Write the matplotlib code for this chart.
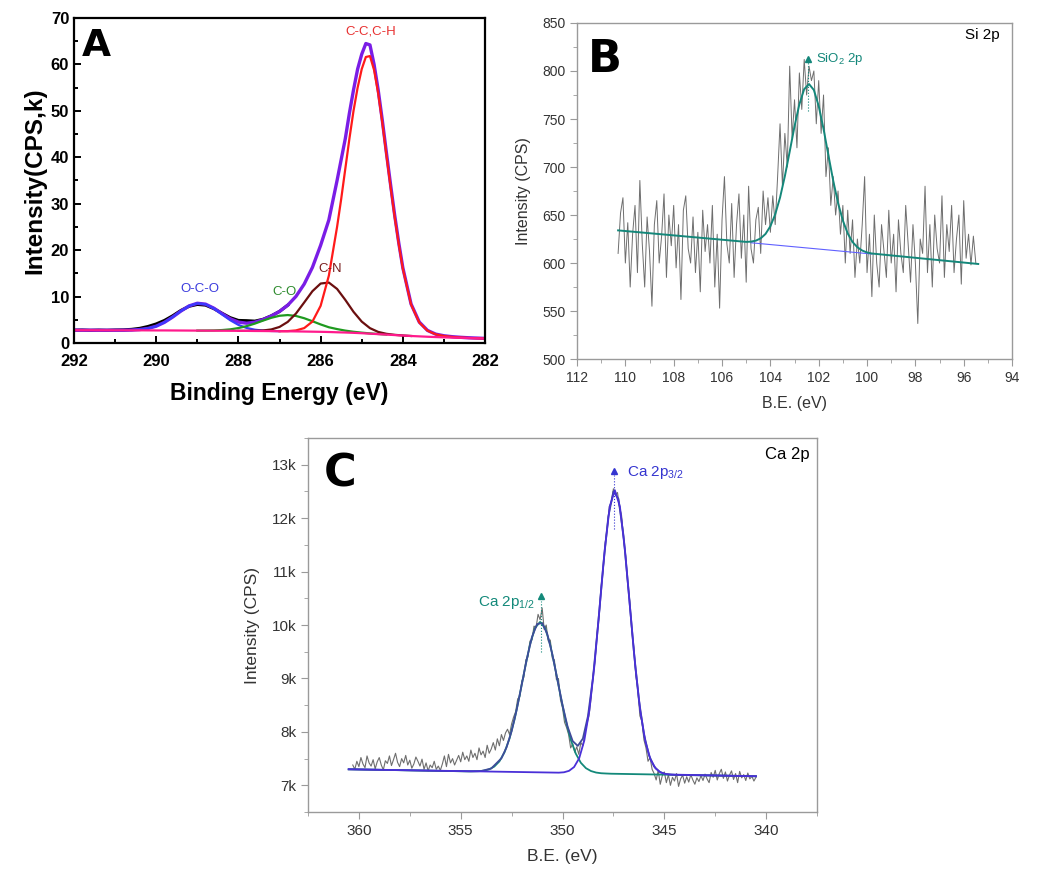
import numpy as np
import matplotlib
matplotlib.use("Agg")
import matplotlib.pyplot as plt
from matplotlib.ticker import MultipleLocator, FuncFormatter

plt.rcParams['font.family'] = ['Liberation Sans', 'DejaVu Sans']
plt.rcParams['mathtext.fontset'] = 'custom'
plt.rcParams['mathtext.rm'] = 'Liberation Sans'
plt.rcParams['mathtext.it'] = 'Liberation Sans:italic'
plt.rcParams['mathtext.bf'] = 'Liberation Sans:bold'


def grid(start, stop, step):
    # energy axis, descending, inclusive of stop
    return np.round(np.arange(start, stop - step / 2, -step), 2)


# ---------------- panel A : C 1s ----------------
a_x = grid(292.0, 282.0, 0.2)
a_base = [2.75, 2.75, 2.75, 2.74, 2.74, 2.73, 2.73, 2.72, 2.72, 2.71, 2.70,
          2.70, 2.69, 2.68, 2.67, 2.66, 2.65, 2.64, 2.63, 2.62, 2.61,
          2.60, 2.58, 2.57, 2.55, 2.53, 2.51, 2.49, 2.46, 2.43, 2.40,
          2.36, 2.30, 2.25, 2.18, 2.10, 2.00, 1.90, 1.80, 1.70, 1.60,
          1.50, 1.42, 1.34, 1.27, 1.21, 1.15, 1.10, 1.05, 1.00, 0.96]
a_raw = [2.76, 2.79, 2.72, 2.77, 2.73, 2.79, 2.82, 2.93, 3.15, 3.55, 4.10,
         4.85, 5.85, 7.00, 7.90, 8.30, 8.15, 7.40, 6.40, 5.45, 4.85,
         4.80, 4.70, 5.10, 5.85, 6.79, 8.14]
a_env_x = np.concatenate([grid(292.0, 285.6, 0.2), grid(285.5, 284.1, 0.1),
                          grid(284.0, 282.0, 0.2)])
a_env = [2.75, 2.75, 2.75, 2.74, 2.74, 2.74, 2.75, 2.78, 2.89, 3.13, 3.61,
         4.44, 5.58, 6.87, 7.98, 8.55, 8.36, 7.50, 6.31, 5.21, 4.49,
         4.25, 4.47, 5.04, 5.81, 6.79, 8.14, 10.03, 12.68, 16.27, 21.04,
         26.5, 35.0,
         39.5, 44.0, 49.5, 54.5, 59.0, 62.2, 64.5, 64.2, 60.0, 54.5, 48.0,
         41.0, 34.2, 27.6, 21.6,
         16.2, 8.4, 4.5, 2.7, 1.9, 1.55, 1.35, 1.22, 1.12, 1.05, 0.98]
a_oco_x = grid(291.0, 287.0, 0.2)
a_oco = [2.74, 2.75, 2.78, 2.89, 3.13, 3.61, 4.44, 5.58, 6.87, 7.98, 8.54,
         8.33, 7.44, 6.16, 4.90, 3.89, 3.23, 2.85, 2.67, 2.58, 2.54]
a_co_x = grid(289.0, 284.4, 0.2)
a_co = [2.67, 2.68, 2.70, 2.78, 2.93, 3.21, 3.62, 4.17, 4.82, 5.42, 5.86,
        6.01, 5.82, 5.33, 4.68, 3.99, 3.38, 2.99, 2.66, 2.41, 2.22, 2.06,
        1.93, 1.81]
a_cn_x = grid(288.0, 283.8, 0.2)
a_cn = [2.61, 2.61, 2.61, 2.69, 2.91, 3.45, 4.54, 6.34, 8.72, 11.15, 12.80,
        13.01, 11.64, 9.28, 6.71, 4.60, 3.19, 2.38, 1.97, 1.75, 1.61, 1.50]
a_cc_x = np.concatenate([grid(287.0, 285.6, 0.2), grid(285.5, 284.1, 0.1),
                         grid(284.0, 282.0, 0.2)])
a_cc = [2.53, 2.55, 2.70, 3.2, 4.6, 8.0, 14.5, 25.0,
        31.0, 37.5, 44.0, 50.0, 55.0, 59.0, 61.6, 61.8, 58.8, 53.8, 47.5,
        40.5, 33.7, 27.2, 21.3,
        16.0, 8.3, 4.4, 2.65, 1.85, 1.50, 1.30, 1.18, 1.08, 1.02, 0.96]

# ---------------- panel B : Si 2p ----------------
b_raw = [610, 652, 668, 600, 642, 575, 630, 660, 590, 686, 620, 575, 648, 612,
         555, 640, 665, 600, 628, 672, 585, 650, 618, 660,
         595, 640, 562, 655, 670, 615, 600, 648, 590, 632, 570, 655, 612, 640,
         600, 660, 575, 630, 553, 645,
         690, 620, 600, 662, 585, 640, 672, 605, 650, 580, 680, 615,
         600, 645, 658, 610, 675, 640, 668, 632, 670, 640, 690, 745, 680, 735,
         700, 805, 730, 770, 720, 798, 760, 812, 775, 805, 790, 800, 745, 790,
         735, 775, 690, 720, 660, 690, 650, 675, 630, 660, 600, 655, 610, 645,
         585, 625, 600, 640, 690,
         590, 630, 565, 650, 600, 575, 640, 612, 585, 655, 600, 630, 570, 645,
         610, 590, 660, 620, 580, 640, 600, 537, 625, 610, 680, 590, 640, 575,
         650, 615, 600, 670, 585, 640, 612, 660, 590, 625, 650, 578, 665, 605,
         630, 598, 628, 600]
b_fit_x = [110.3, 105.0, 104.8, 104.6, 104.4, 104.2, 104.0, 103.8, 103.6, 103.4,
           103.2, 103.0, 102.8, 102.6, 102.4, 102.2, 102.0, 101.8, 101.6, 101.4,
           101.2, 101.0, 100.8, 100.6, 100.4, 100.2, 100.0, 99.8, 95.4]
b_fit = [634.0, 622.0, 622.3, 623.3, 625.7, 630.3, 638.3, 650.7, 668.1, 690.5,
         716.1, 742.5, 765.4, 781.1, 786.4, 780.2, 763.5, 739.7, 712.4, 685.8,
         662.5, 644.2, 630.8, 621.9, 616.4, 613.0, 611.0, 609.9, 599.0]
b_bg_x = [104.8, 99.8]
b_bg = [621.1, 609.4]

# ---------------- panel C : Ca 2p (k CPS) ----------------
c_raw = [7.38, 7.30, 7.45, 7.35, 7.52, 7.40, 7.33, 7.55, 7.42, 7.36, 7.48,
         7.31, 7.44, 7.52, 7.38, 7.29, 7.46, 7.41, 7.55, 7.37, 7.48, 7.60,
         7.43, 7.35, 7.50, 7.42, 7.56, 7.38, 7.47, 7.32, 7.40, 7.53, 7.45,
         7.36, 7.49, 7.30, 7.42, 7.27, 7.38, 7.33, 7.45, 7.30, 7.36, 7.28,
         7.40, 7.55, 7.35, 7.58, 7.42, 7.50, 7.38, 7.47, 7.56, 7.44, 7.62,
         7.48, 7.55, 7.45, 7.66, 7.52, 7.60, 7.48, 7.70, 7.57, 7.64, 7.52,
         7.75, 7.60, 7.68,
         7.80, 7.66, 7.87, 7.74, 7.95, 7.84, 7.98, 8.05, 7.95, 8.15,
         8.28, 8.38, 8.62, 8.66, 8.95, 9.02, 9.35, 9.40, 9.70, 9.72, 9.98,
         9.95, 10.20, 10.10, 10.32, 9.92, 10.00, 9.70, 9.72, 9.38, 9.35,
         8.98, 9.00, 8.60, 8.45, 8.18, 8.08,
         7.95, 7.70, 7.78, 7.62, 7.72, 7.58, 7.80, 7.74, 7.98, 8.15, 8.30, 8.62,
         9.05, 9.35, 9.85, 10.18, 10.72, 11.05, 11.55, 11.82, 12.22, 12.30,
         12.55, 12.45, 12.48, 12.20, 12.05, 11.60, 11.30, 10.80, 10.45, 9.90,
         9.58, 9.05, 8.80, 8.30, 8.20, 7.85,
         7.70, 7.45, 7.52, 7.30, 7.22, 7.10, 7.28, 7.02, 7.18, 7.25,
         7.05, 7.20, 7.00, 7.15, 7.08, 7.22, 6.98, 7.12, 7.19, 7.04,
         7.16, 7.06, 7.20, 7.10, 7.02, 7.14, 7.07, 7.18, 7.09, 7.21,
         7.12, 7.05, 7.24, 7.15, 7.28, 7.10, 7.22, 7.30, 7.13, 7.25,
         7.08, 7.19, 7.27, 7.11, 7.22, 7.05, 7.26, 7.14, 7.20, 7.09,
         7.23, 7.12, 7.17, 7.08, 7.15]
c_env_x = [360.5, 355.0, 354.5, 354.0, 353.5, 353.0, 352.75, 352.5, 352.25,
           352.0, 351.75, 351.5, 351.25, 351.0, 350.75, 350.5, 350.25, 350.0,
           349.75, 349.5, 349.25, 349.0, 348.75, 348.5, 348.25, 348.0, 347.75,
           347.5, 347.25, 347.0, 346.75, 346.5, 346.25, 346.0, 345.75, 345.5,
           345.25, 345.0, 344.75, 344.5, 340.5]
c_env = [7.300, 7.264, 7.261, 7.267, 7.315, 7.506, 7.709, 8.013, 8.415,
         8.889, 9.372, 9.776, 10.017, 10.039, 9.835, 9.454, 8.979, 8.502,
         8.098, 7.828, 7.738, 7.875, 8.295, 9.024, 10.019, 11.112, 12.03,
         12.50, 12.36, 11.66, 10.619, 9.526, 8.604, 7.953, 7.558, 7.352,
         7.257, 7.217, 7.203, 7.196, 7.170]
c_p1_x = [360.5, 354.85, 354.6, 354.35, 354.1, 353.85, 353.6, 353.35, 353.1,
          352.85, 352.6, 352.35, 352.1, 351.85, 351.6, 351.35, 351.1, 350.85,
          350.6, 350.35, 350.1, 349.85, 349.6, 349.35, 349.1, 348.85, 348.6,
          348.35, 348.1, 347.85, 347.6, 340.5]
c_p1 = [7.300, 7.263, 7.262, 7.263, 7.265, 7.275, 7.299, 7.351, 7.448, 7.617,
        7.878, 8.242, 8.694, 9.181, 9.631, 9.945, 10.059, 9.941, 9.625, 9.171,
        8.681, 8.226, 7.858, 7.595, 7.422, 7.321, 7.267, 7.239, 7.226, 7.221,
        7.217, 7.170]
c_p2_x = [360.5, 350.18, 349.93, 349.68, 349.43, 349.18, 348.93, 348.68,
          348.43, 348.18, 347.93, 347.68, 347.43, 347.18, 346.93, 346.68,
          346.43, 346.18, 345.93, 345.68, 345.43, 345.18, 344.93, 344.68, 340.5]
c_p2 = [7.300, 7.237, 7.244, 7.271, 7.343, 7.507, 7.839, 8.407, 9.256, 10.316,
        11.397, 12.219, 12.525, 12.215, 11.391, 10.306, 9.243, 8.391, 7.819,
        7.485, 7.317, 7.241, 7.212, 7.201, 7.170]

GRAY = '#9a9a9a'
TXT = '#333333'

fig = plt.figure(figsize=(10.44, 8.74), dpi=100)

# ---------- A ----------
ax = fig.add_axes([0.0709, 0.6076, 0.3937, 0.3718])
ax.plot(a_x[:len(a_raw)], a_raw, color='black', lw=2.2)
ax.plot(a_env_x, a_env, color='#7a1de6', lw=2.4)
ax.plot(a_oco_x, a_oco, color='#3a3aff', lw=1.6)
ax.plot(a_co_x, a_co, color='#1f9a1f', lw=1.6)
ax.plot(a_cn_x, a_cn, color='#6b0f0f', lw=1.6)
ax.plot(a_cc_x, a_cc, color='#ff1a1a', lw=1.6)
ax.plot(a_x, a_base, color='#ff1a8c', lw=1.6)
ax.set_xlim(292, 282)
ax.set_ylim(0, 70)
ax.xaxis.set_major_locator(MultipleLocator(2))
ax.xaxis.set_minor_locator(MultipleLocator(1))
ax.yaxis.set_major_locator(MultipleLocator(10))
ax.yaxis.set_minor_locator(MultipleLocator(5))
ax.tick_params(which='both', direction='in', width=1.4, labelsize=12)
ax.tick_params(which='major', length=5)
ax.tick_params(which='minor', length=3)
ax.tick_params(axis='x', pad=8)
for lab in ax.get_xticklabels() + ax.get_yticklabels():
    lab.set_fontweight('bold')
for s in ax.spines.values():
    s.set_linewidth(1.6)
ax.set_xlabel('Binding Energy (eV)', fontsize=16.5, fontweight='bold', labelpad=9)
ax.set_ylabel('Intensity(CPS,k)', fontsize=17.5, fontweight='bold', labelpad=3)
ax.text(288.95, 11.6, 'O-C-O', color='#3b3bdd', fontsize=9.5, ha='center', va='center')
ax.text(286.88, 10.9, 'C-O', color='#2e8b2e', fontsize=9.5, ha='center', va='center')
ax.text(285.76, 15.9, 'C-N', color='#7a2020', fontsize=9.5, ha='center', va='center')
ax.text(284.78, 67.0, 'C-C,C-H', color='#e83030', fontsize=9.5, ha='center', va='center')
ax.text(0.02, 0.915, 'A', transform=ax.transAxes, fontsize=27, fontweight='bold',
        family='DejaVu Sans', ha='left', va='center')

# ---------- B ----------
bx = fig.add_axes([0.5527, 0.5892, 0.4167, 0.3845])
b_x = 110.3 - 0.1 * np.arange(len(b_raw))
bx.plot(b_x, b_raw, color='#6e6e6e', lw=0.7)
bx.plot(b_bg_x, b_bg, color='#6060ff', lw=0.8)
bx.plot(b_fit_x, b_fit, color='#14877a', lw=1.4)
bx.plot([102.45, 102.45], [758, 810], color='#14877a', lw=0.8, ls=':')
bx.plot([102.45], [812], marker='^', color='#14877a', ms=5)
bx.text(102.1, 812, 'SiO$_\\mathregular{2}$ 2p', color='#14877a', fontsize=9.5,
        ha='left', va='center')
bx.text(0.972, 0.964, 'Si 2p', transform=bx.transAxes, fontsize=11,
        ha='right', va='center')
bx.text(0.025, 0.89, 'B', transform=bx.transAxes, fontsize=32, fontweight='bold',
        family='DejaVu Sans', ha='left', va='center')
bx.set_xlim(112, 94)
bx.set_ylim(500, 850)
bx.xaxis.set_major_locator(MultipleLocator(2))
bx.xaxis.set_minor_locator(MultipleLocator(1))
bx.yaxis.set_major_locator(MultipleLocator(50))
bx.yaxis.set_minor_locator(MultipleLocator(25))
bx.set_xlabel('B.E. (eV)', fontsize=11.5, color=TXT, labelpad=8)
bx.set_ylabel('Intensity (CPS)', fontsize=11.5, color=TXT, labelpad=8)

# ---------- C ----------
cx = fig.add_axes([0.2950, 0.0709, 0.4876, 0.4279])
c_x = 360.3 - 0.1 * np.arange(len(c_raw))
cx.plot(c_x, c_raw, color='#6e6e6e', lw=0.8)
cx.plot(c_p1_x, c_p1, color='#13897a', lw=1.3)
cx.plot(c_env_x, c_env, color='#3f4c9a', lw=1.3)
cx.plot(c_p2_x, c_p2, color='#4a30d8', lw=1.3)
cx.plot([351.05, 351.05], [9.5, 10.45], color='#13897a', lw=0.8, ls=':')
cx.plot([351.05], [10.55], marker='^', color='#13897a', ms=5)
cx.plot([347.45, 347.45], [11.8, 12.8], color='#3535d0', lw=0.8, ls=':')
cx.plot([347.45], [12.88], marker='^', color='#3535d0', ms=5)
cx.text(351.33, 10.43, 'Ca 2p$_\\mathregular{1/2}$', color='#13897a', fontsize=11,
        ha='right', va='center')
cx.text(346.85, 12.86, 'Ca 2p$_\\mathregular{3/2}$', color='#3535d0', fontsize=11,
        ha='left', va='center')
cx.text(0.986, 0.957, 'Ca 2p', transform=cx.transAxes, fontsize=12,
        ha='right', va='center')
cx.text(0.03, 0.905, 'C', transform=cx.transAxes, fontsize=32, fontweight='bold',
        family='DejaVu Sans', ha='left', va='center')
cx.set_xlim(362.5, 337.5)
cx.set_ylim(6.5, 13.5)
cx.xaxis.set_major_locator(MultipleLocator(5))
cx.xaxis.set_minor_locator(MultipleLocator(2.5))
cx.yaxis.set_major_locator(MultipleLocator(1))
cx.yaxis.set_minor_locator(MultipleLocator(0.5))
cx.yaxis.set_major_formatter(FuncFormatter(lambda v, p: '%dk' % round(v)))
cx.set_xlabel('B.E. (eV)', fontsize=12.5, color=TXT, labelpad=8)
cx.set_ylabel('Intensity (CPS)', fontsize=12.5, color=TXT, labelpad=8)

for a, size in ((bx, 10), (cx, 11)):
    for s in a.spines.values():
        s.set_color(GRAY)
        s.set_linewidth(1.0)
    a.tick_params(which='both', direction='out', color=GRAY, labelcolor=TXT,
                  labelsize=size)
    a.tick_params(which='major', length=5)
    a.tick_params(which='minor', length=3)

fig.savefig('out.png', dpi=100)
